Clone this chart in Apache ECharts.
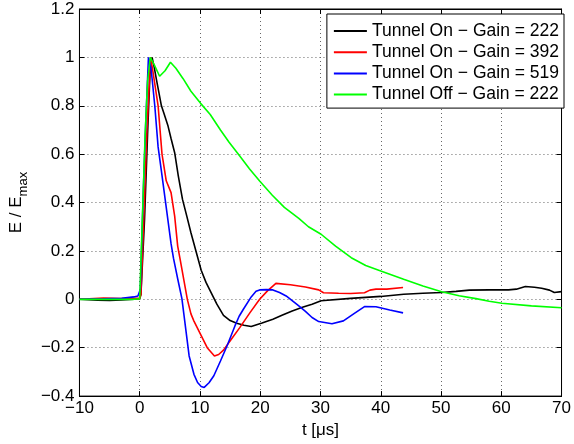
<!DOCTYPE html>
<html>
<head>
<meta charset="utf-8">
<script src="https://cdn.jsdelivr.net/npm/echarts@6/dist/echarts.min.js"></script>
<style>
  html, body { margin: 0; padding: 0; background: #fff; }
  #chart { width: 574px; height: 444px; }
</style>
</head>
<body>
<div id="chart"></div>
<script>
// Normalised field E/Emax versus time t (µs)
const xTicks = { min: -10, max: 70, step: 10 };
const yTicks = { min: -0.4, max: 1.2, step: 0.2 };

const seriesNames = [
  'Tunnel On \u2212 Gain = 222',
  'Tunnel On \u2212 Gain = 392',
  'Tunnel On \u2212 Gain = 519',
  'Tunnel Off \u2212 Gain = 222'
];
const seriesColors = ['#000000', '#ff0000', '#0000ff', '#00ff00'];

// Tunnel on, gain 222
const tOn222 = [-10, -7, -5, -3, -1, 0, 0.2, 0.8, 1.3, 1.7, 2.05, 2.4, 2.8, 3.6, 4.0, 4.7, 5.2, 5.8, 6.4, 7.1, 7.8, 8.5, 9.6, 10.2, 11.0, 11.7, 12.8, 13.9, 15.0, 16.1, 17.3, 18.5, 20.3, 22.1, 23.7, 25.3, 27.0, 28.6, 30.1, 35, 40, 43.8, 47, 50.1, 52.5, 54.7, 58, 61.2, 62.5, 64, 65.5, 66.7, 68, 68.8, 70];
const vOn222 = [0, -0.004, -0.005, -0.003, 0.0, 0.003, 0.02, 0.33, 0.68, 0.93, 1.0, 0.96, 0.905, 0.80, 0.77, 0.716, 0.665, 0.606, 0.51, 0.413, 0.345, 0.275, 0.175, 0.12, 0.07, 0.035, -0.02, -0.066, -0.088, -0.099, -0.107, -0.112, -0.098, -0.082, -0.065, -0.048, -0.033, -0.020, -0.006, 0.004, 0.012, 0.021, 0.025, 0.028, 0.033, 0.038, 0.039, 0.039, 0.042, 0.053, 0.05, 0.046, 0.038, 0.028, 0.032];

// Tunnel on, gain 392
const tOn392 = [-10, -6, -3, -1, 0, 0.2, 0.8, 1.2, 1.8, 2.2, 3.05, 3.7, 4.4, 5.2, 5.8, 6.3, 6.7, 7.2, 7.9, 8.5, 9.0, 10.1, 11.2, 12.4, 13.1, 13.9, 15.2, 16.6, 18.3, 19.9, 21.2, 22.6, 25, 27.5, 29.7, 30.5, 33, 35, 37.3, 38.2, 39.2, 41, 43.7];
const vOn392 = [0, 0.005, 0.003, 0.004, 0.004, 0.02, 0.42, 0.70, 1.0, 0.94, 0.80, 0.60, 0.49, 0.441, 0.344, 0.22, 0.166, 0.097, 0.0, -0.06, -0.09, -0.145, -0.2, -0.234, -0.228, -0.21, -0.165, -0.117, -0.055, 0.0, 0.035, 0.066, 0.06, 0.051, 0.039, 0.027, 0.025, 0.024, 0.027, 0.038, 0.042, 0.042, 0.049];

// Tunnel on, gain 519
const tOn519 = [-10, -6, -3, -1, -0.3, 0.1, 0.6, 1.0, 1.45, 1.9, 2.5, 3.05, 3.6, 4.4, 5.2, 5.6, 6.3, 7.0, 8.2, 9.0, 9.6, 10.2, 10.7, 11.5, 12.3, 13.4, 14.5, 15.8, 16.5, 17.2, 18.5, 19.3, 19.9, 21.0, 22.1, 23.2, 24.3, 25.3, 26.4, 27.5, 28.6, 29.7, 31.9, 33.8, 35.5, 37.3, 39.2, 41.5, 43.7];
const vOn519 = [0, 0.002, 0.004, 0.01, 0.014, 0.04, 0.45, 0.73, 1.0, 0.95, 0.80, 0.63, 0.53, 0.38, 0.23, 0.17, 0.085, 0.003, -0.234, -0.31, -0.344, -0.36, -0.364, -0.345, -0.316, -0.255, -0.192, -0.11, -0.07, -0.041, 0.01, 0.033, 0.039, 0.04, 0.039, 0.028, 0.014, -0.005, -0.027, -0.05, -0.075, -0.092, -0.101, -0.089, -0.06, -0.030, -0.031, -0.044, -0.056];

// Tunnel off, gain 222
const tOff222 = [-10, -5, -1, 0, 0.1, 0.9, 1.3, 1.75, 2.4, 3.3, 4.2, 5.1, 6.0, 7.2, 8.5, 10.1, 11.7, 13.4, 14.8, 16.6, 18.2, 19.9, 22.0, 24.0, 26.4, 28.0, 30.1, 32.5, 35.1, 37.5, 40.0, 43.8, 47.0, 50.1, 53.0, 55.8, 58.0, 60.1, 65.0, 70.0];
const vOff222 = [0, 0, 0, 0.002, 0.01, 0.68, 0.9, 1.0, 0.97, 0.922, 0.945, 0.98, 0.955, 0.912, 0.86, 0.81, 0.764, 0.70, 0.65, 0.592, 0.54, 0.489, 0.43, 0.38, 0.335, 0.30, 0.269, 0.22, 0.172, 0.14, 0.117, 0.083, 0.055, 0.031, 0.015, 0.003, -0.008, -0.016, -0.027, -0.035];

const seriesT = [tOn222, tOn392, tOn519, tOff222];
const seriesV = [vOn222, vOn392, vOn519, vOff222];

const FONT = '"Liberation Sans", Arial, Helvetica, sans-serif';
const fmt = v => String(Math.round(v * 10) / 10).replace('-', '\u2212');

const gridLine = { show: true, lineStyle: { color: '#666', type: [1, 3], width: 1 } };
const tickIn = { show: true, inside: true, length: 5, lineStyle: { color: '#000', width: 1 } };

const chart = echarts.init(document.getElementById('chart'), null, { renderer: 'canvas' });

chart.setOption({
  animation: false,
  backgroundColor: '#fff',
  grid: { left: 77, right: 7, top: 9, bottom: 47, show: true, borderColor: '#000', borderWidth: 1 },
  legend: {
    data: seriesNames,
    orient: 'vertical',
    right: 10,
    top: 14,
    padding: [8, 5, 4.5, 7],
    itemGap: 3.2,
    itemWidth: 33,
    itemHeight: 2,
    icon: 'rect',
    backgroundColor: '#fff',
    borderColor: '#000',
    borderWidth: 1,
    borderRadius: 0,
    textStyle: { fontFamily: FONT, fontSize: 17.5, lineHeight: 17, color: '#000' }
  },
  xAxis: [{
    type: 'value', min: xTicks.min, max: xTicks.max, interval: xTicks.step,
    name: 't [\u03bcs]', nameLocation: 'middle', nameGap: 24,
    nameTextStyle: { fontFamily: FONT, fontSize: 17, color: '#000' },
    axisLine: { show: true, onZero: false, lineStyle: { color: '#000', width: 1 } },
    axisTick: tickIn,
    axisLabel: { fontFamily: FONT, fontSize: 17, color: '#000', margin: 4, formatter: fmt },
    splitLine: gridLine
  }, {
    type: 'value', position: 'top', min: xTicks.min, max: xTicks.max, interval: xTicks.step,
    axisLine: { show: true, onZero: false, lineStyle: { color: '#000', width: 1 } },
    axisTick: tickIn, axisLabel: { show: false }, splitLine: { show: false }
  }],
  yAxis: [{
    type: 'value', min: yTicks.min, max: yTicks.max, interval: yTicks.step,
    name: '{m|E / E}{s|max}', nameLocation: 'middle', nameGap: 48, nameRotate: 90,
    nameTextStyle: {
      fontFamily: FONT, color: '#000',
      rich: {
        m: { fontFamily: FONT, fontSize: 17, color: '#000', lineHeight: 22, verticalAlign: 'top' },
        s: { fontFamily: FONT, fontSize: 13, color: '#000', lineHeight: 22, verticalAlign: 'bottom', padding: [8, 0, 0, 0] }
      }
    },
    axisLine: { show: true, onZero: false, lineStyle: { color: '#000', width: 1 } },
    axisTick: tickIn,
    axisLabel: { fontFamily: FONT, fontSize: 17, color: '#000', margin: 5, formatter: fmt },
    splitLine: gridLine
  }, {
    type: 'value', position: 'right', min: yTicks.min, max: yTicks.max, interval: yTicks.step,
    axisLine: { show: true, onZero: false, lineStyle: { color: '#000', width: 1 } },
    axisTick: tickIn, axisLabel: { show: false }, splitLine: { show: false }
  }],
  series: seriesNames.map((name, i) => ({
    name: name,
    type: 'line',
    xAxisIndex: 0,
    yAxisIndex: 0,
    symbol: 'none',
    showSymbol: false,
    smooth: false,
    z: 2 + i,
    color: seriesColors[i],
    lineStyle: { color: seriesColors[i], width: 1.6 },
    data: seriesT[i].map((t, k) => [t, seriesV[i][k]])
  }))
});
</script>
</body>
</html>
